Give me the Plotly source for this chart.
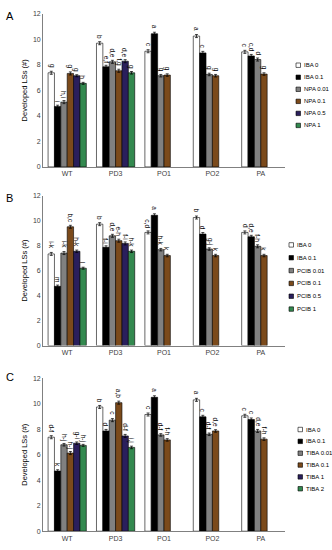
import plotly.graph_objects as go

categories = ["WT", "PD3", "PO1", "PO2", "PA"]

# Panel A
a_names = ["IBA 0", "IBA 0.1", "NPA 0.01", "NPA 0.1", "NPA 0.5", "NPA 1"]
a_vals = [
    [7.38, 9.70, 9.07, 10.26, 9.02],
    [4.74, 7.85, 10.44, 8.94, 8.70],
    [5.08, 8.24, 7.15, 7.25, 8.42],
    [7.33, 7.54, 7.20, 7.15, 7.28],
    [7.15, 8.29, None, None, None],
    [6.55, 7.38, None, None, None],
]
a_err = [
    [0.12, 0.12, 0.12, 0.12, 0.12],
    [0.10, 0.12, 0.12, 0.12, 0.12],
    [0.12, 0.12, 0.10, 0.10, 0.12],
    [0.12, 0.12, 0.10, 0.10, 0.10],
    [0.08, 0.12, None, None, None],
    [0.08, 0.10, None, None, None],
]
a_lbl = [
    ["g", "b", "c", "a", "c"],
    ["i", "e,f", "a", "c", "c,d"],
    ["h,i", "d,e", "g", "g", "d"],
    ["g", "f,g", "g", "g", "g"],
    ["g", "d,e", "", "", ""],
    ["h", "g", "", "", ""],
]

# Panel B
b_names = ["IBA 0", "IBA 0.1", "PCIB 0.01", "PCIB 0.1", "PCIB 0.5", "PCIB 1"]
b_vals = [
    [7.33, 9.71, 9.05, 10.24, 9.05],
    [4.74, 7.86, 10.42, 8.92, 8.70],
    [7.40, 8.78, 7.67, 7.72, 7.94],
    [9.50, 8.39, 7.20, 7.20, 7.20],
    [7.54, 8.17, None, None, None],
    [6.19, 7.54, None, None, None],
]
b_err = [
    [0.12, 0.12, 0.12, 0.12, 0.12],
    [0.10, 0.12, 0.12, 0.12, 0.12],
    [0.12, 0.12, 0.10, 0.10, 0.12],
    [0.12, 0.12, 0.10, 0.10, 0.10],
    [0.10, 0.12, None, None, None],
    [0.08, 0.10, None, None, None],
]
b_lbl = [
    ["i-k", "b", "c,d", "b", "d"],
    ["m", "f-i", "a", "d", "d,e"],
    ["i-k", "d,e", "h-k", "g-j", "f-h"],
    ["b,c", "e-h", "k", "k", "k"],
    ["h-k", "f-i", "", "", ""],
    ["l", "h-k", "", "", ""],
]

# Panel C
c_names = ["IBA 0", "IBA 0.1", "TIBA 0.01", "TIBA 0.1", "TIBA 1", "TIBA 2"]
c_vals = [
    [7.37, 9.74, 9.15, 10.30, 9.05],
    [4.72, 7.86, 10.50, 8.97, 8.76],
    [6.78, 8.71, 7.55, 7.60, 7.86],
    [6.13, 10.08, 7.16, 7.86, 7.22],
    [6.90, 7.47, None, None, None],
    [6.73, 6.57, None, None, None],
]
c_err = [
    [0.12, 0.12, 0.12, 0.12, 0.12],
    [0.10, 0.12, 0.12, 0.12, 0.12],
    [0.10, 0.12, 0.10, 0.10, 0.12],
    [0.12, 0.12, 0.10, 0.10, 0.10],
    [0.10, 0.12, None, None, None],
    [0.08, 0.10, None, None, None],
]
c_lbl = [
    ["d-f", "b", "c", "a", "c"],
    ["k", "d", "a", "c", "c"],
    ["h-j", "c", "d-f", "d-f", "d,e"],
    ["h-j", "a,b", "f-h", "d,e", "f-h"],
    ["g-i", "d-f", "", "", ""],
    ["h-j", "i,j", "", "", ""],
]

colors = ["#ffffff", "#000000", "#808080", "#7b4a1b", "#2a1f5c", "#33894f"]

W, H = 332, 550
xdom_px = [43, 285]
xdom = [xdom_px[0] / W, xdom_px[1] / W]
ydoms = [
    [1 - 165 / H, 1 - 10 / H],
    [1 - 346 / H, 1 - 194 / H],
    [1 - 534 / H, 1 - 379 / H],
]
BARGAP = 0.21
n_series = 6
cat_w = (xdom_px[1] - xdom_px[0]) / len(categories)
bar_w = cat_w * (1 - BARGAP) / n_series

fig = go.Figure()

panels = [
    (a_names, a_vals, a_err, a_lbl, "x", "y"),
    (b_names, b_vals, b_err, b_lbl, "x2", "y2"),
    (c_names, c_vals, c_err, c_lbl, "x3", "y3"),
]

for names, vals, errs, lbls, xa, ya in panels:
    for i, name in enumerate(names):
        fig.add_trace(go.Bar(
            x=categories, y=vals[i], name=name,
            xaxis=xa, yaxis=ya, showlegend=False,
            marker=dict(color=colors[i], line=dict(color="#000000", width=0.6)),
            error_y=dict(type="data", array=errs[i], color="#000000", thickness=0.7, width=1.5),
        ))
        shift = (i - (n_series - 1) / 2) * bar_w
        for c, v, e, t in zip(categories, vals[i], errs[i], lbls[i]):
            if v is None or not t:
                continue
            fig.add_annotation(
                x=c, y=v + e, xref=xa, yref=ya, text=t, showarrow=False,
                textangle=90, xshift=shift, yshift=1, xanchor="center", yanchor="bottom",
                font=dict(size=6.5, color="#000000", family="Liberation Sans"),
            )

axis_font = dict(size=7, color="#404040", family="Liberation Sans")
lay = dict(
    width=W, height=H,
    margin=dict(l=0, r=0, t=0, b=0),
    paper_bgcolor="white", plot_bgcolor="white",
    barmode="group", bargap=BARGAP, bargroupgap=0,
    font=dict(family="Liberation Sans", size=7, color="#404040"),
    showlegend=False,
)
suffixes = ["", "2", "3"]
for k, s in enumerate(suffixes):
    lay["xaxis" + s] = dict(
        domain=xdom, anchor="y" + s, type="category",
        showline=True, linecolor="#808080", linewidth=0.8,
        ticks="", tickfont=axis_font, showgrid=False, zeroline=False,
    )
    lay["yaxis" + s] = dict(
        domain=ydoms[k], anchor="x" + s, range=[0, 12], dtick=2,
        showline=True, linecolor="#808080", linewidth=0.8,
        ticks="", tickfont=axis_font, showgrid=False, zeroline=False,
        title=dict(text="Developed LSs (#)", font=dict(size=7.5, color="#000000"), standoff=4),
    )
fig.update_layout(**lay)

# custom compact legends
legend_tops = [62, 244, 431]
legend_steps = [12.2, 13.0, 12.0]
legend_x = [296, 289, 298]
sq = 4.5
for (names, *_), top, step, lx in zip(panels, legend_tops, legend_steps, legend_x):
    for i, name in enumerate(names):
        yc = top + i * step
        fig.add_shape(type="rect", xref="paper", yref="paper",
                      x0=lx / W, x1=(lx + sq) / W,
                      y0=1 - (yc + sq / 2) / H, y1=1 - (yc - sq / 2) / H,
                      fillcolor=colors[i], line=dict(color="#000000", width=0.6))
        fig.add_annotation(text=name, xref="paper", yref="paper",
                           x=(lx + sq + 1) / W, y=1 - yc / H,
                           xanchor="left", yanchor="middle", showarrow=False,
                           font=dict(size=6, color="#000000", family="Liberation Sans"))

for letter, ytop in zip(["A", "B", "C"], [12, 196, 378]):
    fig.add_annotation(text=letter, xref="paper", yref="paper",
                       x=4 / W, y=1 - ytop / H, xanchor="left", yanchor="middle",
                       showarrow=False, font=dict(size=11, color="#000000", family="Liberation Sans"))

fig.write_html(
    "out.html",
    config={"displayModeBar": False},
    post_script="document.body.style.margin='0';document.body.style.overflow='hidden';",
)
